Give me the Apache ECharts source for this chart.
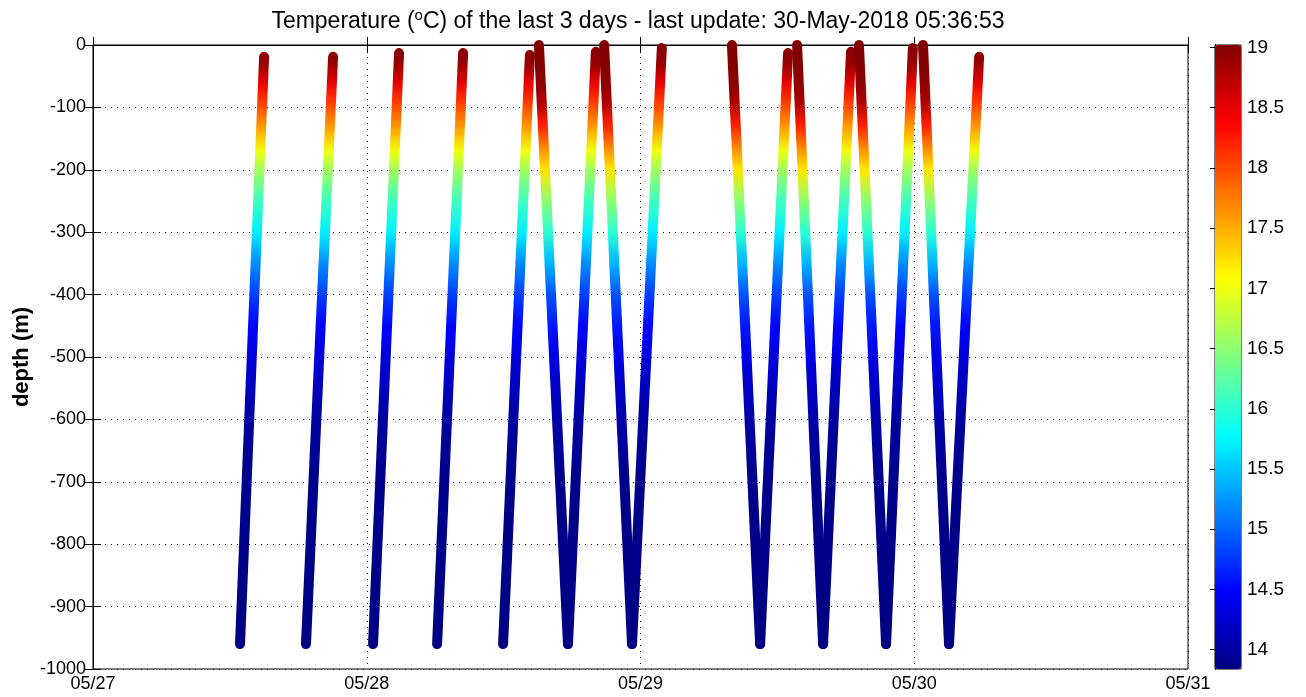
<!DOCTYPE html>
<html>
<head>
<meta charset="utf-8">
<script src="https://cdn.jsdelivr.net/npm/echarts@6.0.0/dist/echarts.min.js"></script>
<style>
html, body { margin: 0; padding: 0; background: #fff; }
#main { width: 1306px; height: 697px; }
</style>
</head>
<body>
<div id="main"></div>
<script>
// tick labels of the time axis (days since 05/27 00:00)
var dayLabels = ['05/27', '05/28', '05/29', '05/30', '05/31'];
var colorbarTicks = [14, 14.5, 15, 15.5, 16, 16.5, 17, 17.5, 18, 18.5, 19];
var tempMin = 13.84, tempMax = 19.02;

// climbs: from bottom to top (day, depth m)
var upBottomDay   = [0.537, 0.778, 1.023, 1.257, 1.498, 1.735, 1.969, 2.437, 2.667, 2.897, 3.127];
var upBottomDepth = [-960, -960, -960, -960, -960, -960, -960, -960, -960, -960, -960];
var upTopDay      = [0.625, 0.877, 1.118, 1.352, 1.596, 1.837, 2.078, 2.539, 2.769, 2.995, 3.237];
var upTopDepth    = [-19, -19, -13, -13, -16, -11, -5, -13, -11, -5, -19];

// dives: from surface to bottom
var downTopDay      = [1.629, 1.867, 2.334, 2.572, 2.798, 3.032];
var downTopDepth    = [0, 0, 0, 0, 0, 0];
var downBottomDay   = [1.735, 1.969, 2.437, 2.667, 2.897, 3.127];
var downBottomDepth = [-960, -960, -960, -960, -960, -960];

// temperature profile (degC) seen along climbs and dives
var profileDepth = [0, -30, -60, -90, -130, -170, -200, -250, -300, -350, -400, -450, -500, -600, -700, -1000];
var upTemp       = [19.0, 18.9, 18.5, 18.1, 17.6, 17.0, 16.6, 16.1, 15.7, 15.2, 14.8, 14.5, 14.3, 14.0, 13.9, 13.85];
var downTemp     = [19.0, 19.0, 18.95, 18.8, 18.2, 17.6, 17.2, 16.5, 16.0, 15.4, 14.9, 14.6, 14.35, 14.05, 13.9, 13.85];

// matlab jet
function jet(t) {
    var f = (t - tempMin) / (tempMax - tempMin);
    f = Math.max(0, Math.min(1, f));
    function c(v) { return Math.round(255 * Math.max(0, Math.min(1, v))); }
    var r = c(1.5 - Math.abs(4 * f - 3));
    var g = c(1.5 - Math.abs(4 * f - 2));
    var b = c(1.5 - Math.abs(4 * f - 1));
    return 'rgb(' + r + ',' + g + ',' + b + ')';
}
var jetColors = ['#000080', '#0000ff', '#0080ff', '#00ffff', '#80ff80', '#ffff00', '#ff8000', '#ff0000', '#800000'];

function tempAt(depth, temps) {
    for (var i = 0; i < profileDepth.length - 1; i++) {
        var a = profileDepth[i], b = profileDepth[i + 1];
        if (depth <= a && depth >= b) {
            var k = (a - depth) / (a - b);
            return temps[i] + k * (temps[i + 1] - temps[i]);
        }
    }
    return temps[temps.length - 1];
}

function strandRenderer(temps) {
    return function (params, api) {
        var d1 = api.value(1), d2 = api.value(3);
        var p1 = api.coord([api.value(0), d1]);
        var p2 = api.coord([api.value(2), d2]);
        var stops = [{offset: 0, color: jet(tempAt(d1, temps))}];
        var lo = Math.min(d1, d2), hi = Math.max(d1, d2);
        for (var i = 0; i < profileDepth.length; i++) {
            var lv = profileDepth[i];
            if (lv < hi && lv > lo) {
                stops.push({offset: (lv - d1) / (d2 - d1), color: jet(temps[i])});
            }
        }
        stops.push({offset: 1, color: jet(tempAt(d2, temps))});
        stops.sort(function (a, b) { return a.offset - b.offset; });
        return {
            type: 'line',
            shape: {x1: p1[0], y1: p1[1], x2: p2[0], y2: p2[1]},
            style: {
                stroke: new echarts.graphic.LinearGradient(p1[0], p1[1], p2[0], p2[1], stops, true),
                lineWidth: 10,
                lineCap: 'round'
            }
        };
    };
}

var upData = [];
for (var i = 0; i < upTopDay.length; i++) {
    upData.push([upBottomDay[i], upBottomDepth[i], upTopDay[i], upTopDepth[i]]);
}
var downData = [];
for (var j = 0; j < downTopDay.length; j++) {
    downData.push([downTopDay[j], downTopDepth[j], downBottomDay[j], downBottomDepth[j]]);
}

var fontName = "'Liberation Sans', sans-serif";
var tickFont = {color: '#000', fontSize: 18, fontFamily: fontName};
var dotted = {color: '#000', width: 1, type: [1, 5]};

var chart = echarts.init(document.getElementById('main'));
chart.setOption({
    animation: false,
    backgroundColor: '#fff',
    graphic: [
        {
            type: 'text', x: 638, y: 8,
            style: {
                text: '{a|Temperature (}{s|o}{a|C) of the last 3 days - last update: 30-May-2018 05:36:53}',
                align: 'center',
                rich: {
                    a: {fontSize: 23, fontFamily: fontName, fill: '#000'},
                    s: {fontSize: 15, fontFamily: fontName, fill: '#000', padding: [0, 0, 12, 0]}
                }
            }
        },
        {
            type: 'text', x: 22, y: 357, rotation: Math.PI / 2,
            style: {
                text: 'depth (m)', align: 'center', verticalAlign: 'middle',
                fontSize: 22, fontWeight: 'bold', fontFamily: fontName, fill: '#000'
            }
        }
    ],
    grid: [
        {left: 93, top: 45, width: 1095, height: 624, show: true, borderColor: '#000', borderWidth: 1},
        {left: 1215, top: 45, width: 26, height: 624, show: true, borderColor: '#000', borderWidth: 1}
    ],
    xAxis: [
        {
            type: 'value', gridIndex: 0, min: 0, max: 4, interval: 1, position: 'bottom',
            axisLine: {lineStyle: {color: '#333'}},
            axisTick: {inside: true, length: 8, lineStyle: {color: '#000'}},
            axisLabel: Object.assign({margin: 6, formatter: function (v) { return dayLabels[v]; }}, tickFont),
            splitLine: {show: true, lineStyle: dotted}
        },
        {
            type: 'value', gridIndex: 0, min: 0, max: 4, interval: 1, position: 'top',
            axisLine: {lineStyle: {color: '#000'}},
            axisTick: {inside: true, length: 8, lineStyle: {color: '#000'}},
            axisLabel: {show: false}, splitLine: {show: false}
        },
        {type: 'value', gridIndex: 1, min: 0, max: 1, show: false}
    ],
    yAxis: [
        {
            type: 'value', gridIndex: 0, min: -1000, max: 0, interval: 100, position: 'left',
            axisLine: {lineStyle: {color: '#000'}},
            axisTick: {inside: true, length: 8, lineStyle: {color: '#000'}},
            axisLabel: Object.assign({margin: 7, formatter: function (v) { return String(v); }}, tickFont),
            splitLine: {show: true, lineStyle: dotted}
        },
        {
            type: 'value', gridIndex: 0, min: -1000, max: 0, interval: 100, position: 'right',
            axisLine: {lineStyle: {color: '#000'}},
            axisTick: {inside: true, length: 8, lineStyle: {color: '#000'}},
            axisLabel: {show: false}, splitLine: {show: false}
        },
        {
            type: 'value', gridIndex: 1, min: tempMin, max: tempMax, position: 'right',
            axisLine: {lineStyle: {color: '#000'}},
            axisTick: {inside: true, length: 5, customValues: colorbarTicks, lineStyle: {color: '#000'}},
            axisLabel: Object.assign({margin: 6, customValues: colorbarTicks}, tickFont, {fontSize: 19}),
            splitLine: {show: false}
        },
        {
            type: 'value', gridIndex: 1, min: tempMin, max: tempMax, position: 'left',
            axisLine: {lineStyle: {color: '#000'}},
            axisTick: {inside: true, length: 5, customValues: colorbarTicks, lineStyle: {color: '#000'}},
            axisLabel: {show: false}, splitLine: {show: false}
        }
    ],
    visualMap: {
        type: 'continuous', min: tempMin, max: tempMax, seriesIndex: 2, dimension: 1,
        orient: 'vertical', left: 1215, top: 45, itemWidth: 26, itemHeight: 624,
        padding: 0, calculable: false, hoverLink: false,
        inRange: {color: jetColors}
    },
    series: [
        {
            type: 'custom', name: 'climbs', xAxisIndex: 0, yAxisIndex: 0,
            renderItem: strandRenderer(upTemp), data: upData,
            encode: {x: [0, 2], y: [1, 3]}, z: 5
        },
        {
            type: 'custom', name: 'dives', xAxisIndex: 0, yAxisIndex: 0,
            renderItem: strandRenderer(downTemp), data: downData,
            encode: {x: [0, 2], y: [1, 3]}, z: 5
        },
        {type: 'scatter', xAxisIndex: 2, yAxisIndex: 2, data: []}
    ]
});
</script>
</body>
</html>
